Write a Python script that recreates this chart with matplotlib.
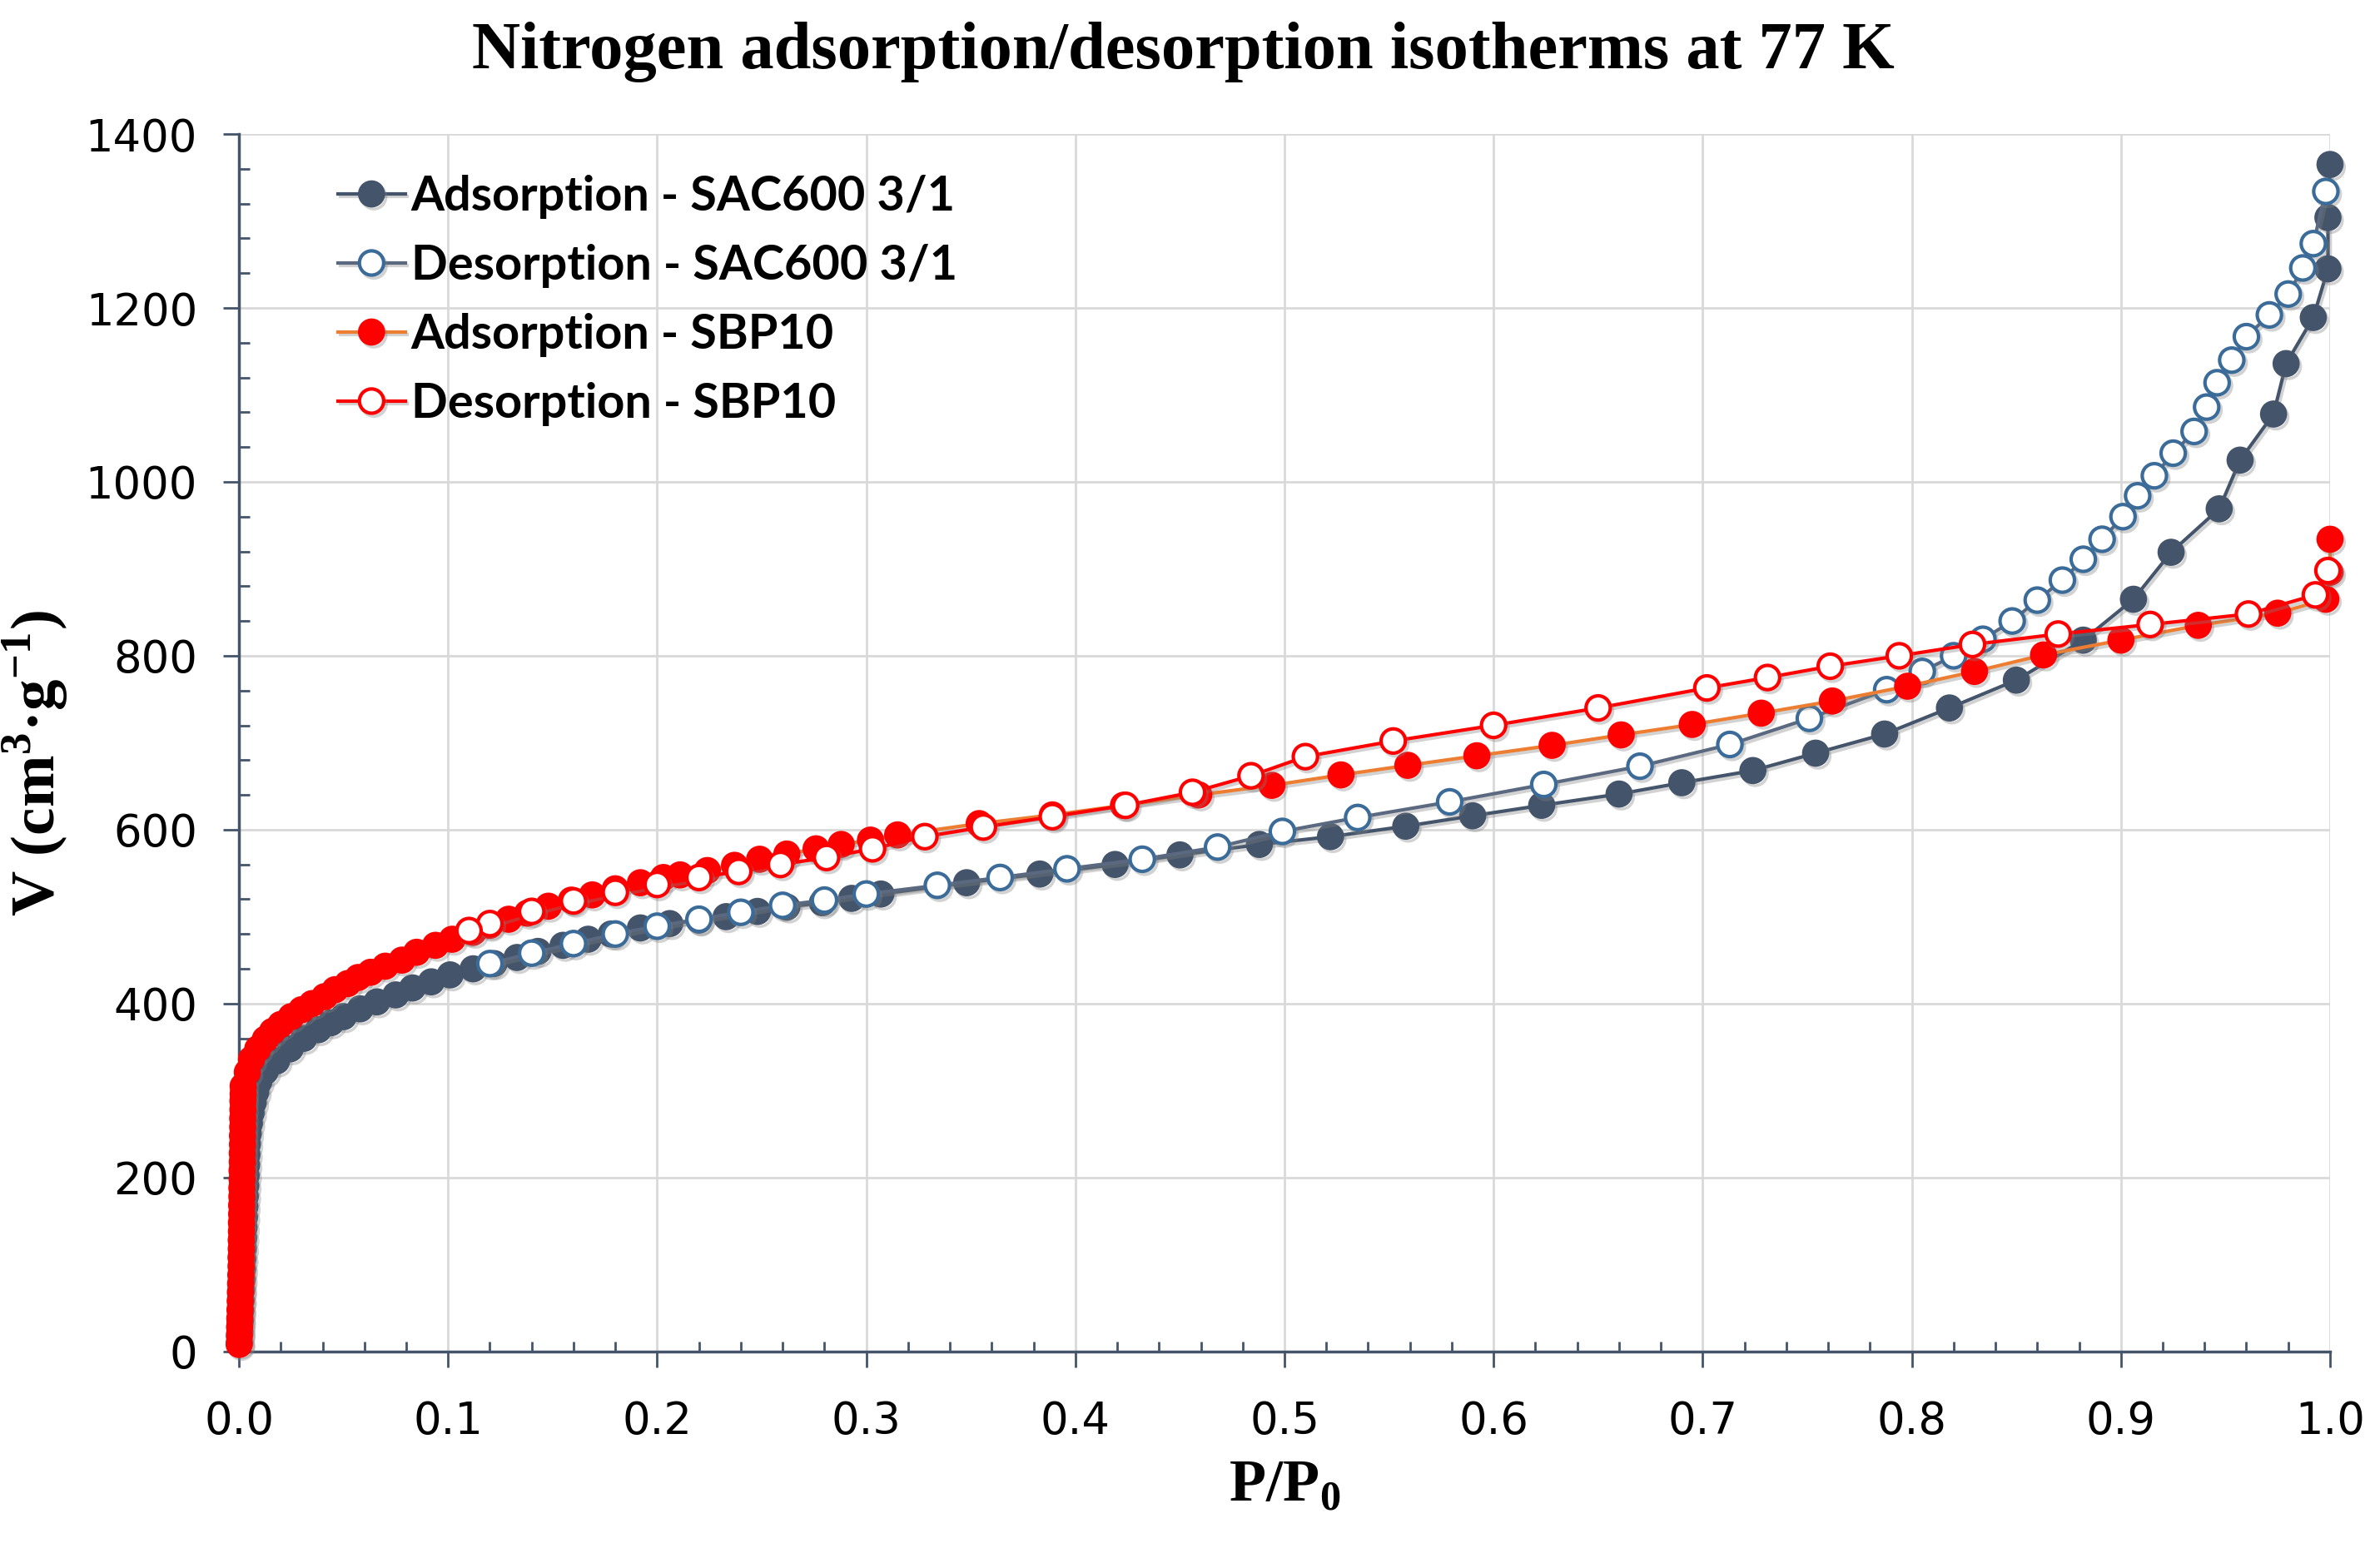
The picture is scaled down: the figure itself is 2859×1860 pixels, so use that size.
# Nitrogen adsorption/desorption isotherms at 77 K
import matplotlib
matplotlib.use("Agg")
from matplotlib import pyplot as plt
from matplotlib import patheffects as pe
from matplotlib.ticker import MultipleLocator, FormatStrFormatter

plt.rcParams['mathtext.fontset'] = 'custom'
plt.rcParams['mathtext.rm'] = 'Liberation Serif:bold'
plt.rcParams['mathtext.bf'] = 'Liberation Serif:bold'

# ---------------- data ----------------
# SAC600 3/1 adsorption
ads_sac_p = [0.0002, 0.0004, 0.0006, 0.0008, 0.0010, 0.0012, 0.0014, 0.0016, 0.0018, 0.0020,
             0.0022, 0.0024, 0.0026, 0.0028, 0.0030, 0.0032, 0.0034, 0.0036, 0.0038, 0.0040,
             0.0044, 0.0050, 0.0058, 0.0068, 0.0080, 0.0095,
             0.0126, 0.018, 0.0245, 0.031, 0.038, 0.044, 0.050, 0.058, 0.066, 0.075,
             0.083, 0.092, 0.101, 0.112, 0.122, 0.133, 0.143, 0.155, 0.167, 0.178,
             0.192, 0.206, 0.220, 0.233, 0.248, 0.262, 0.279, 0.293, 0.307, 0.348,
             0.383, 0.419, 0.450, 0.488, 0.522, 0.558, 0.590, 0.623, 0.660, 0.690,
             0.724, 0.754, 0.787, 0.818, 0.850, 0.882, 0.906, 0.924, 0.947, 0.957,
             0.973, 0.979, 0.992, 0.999, 0.999, 1.000]
ads_sac_v = [10, 22, 34, 46, 58, 70, 82, 94, 106, 118,
             130, 142, 154, 166, 178, 190, 202, 214, 226, 238,
             250, 262, 274, 286, 298, 310,
             322, 334, 348, 360, 370, 378, 385, 394, 402, 410,
             418, 425, 433, 440, 446, 453, 460, 467, 474, 480,
             487, 492, 496, 500, 506, 511, 516, 521, 526, 539,
             549, 560, 571, 583, 592, 604, 616, 628, 641, 654,
             668, 688, 710, 740, 772, 818, 865, 919, 969, 1025,
             1078, 1136, 1189, 1245, 1304, 1365]

# SAC600 3/1 desorption
des_sac_p = [0.998, 0.992, 0.987, 0.980, 0.971, 0.960, 0.953, 0.946, 0.941, 0.935,
             0.925, 0.916, 0.908, 0.901, 0.891, 0.882, 0.872, 0.860, 0.848, 0.834,
             0.820, 0.805, 0.788, 0.751, 0.713, 0.670, 0.624, 0.579, 0.535, 0.499,
             0.468, 0.432, 0.396, 0.364, 0.334, 0.300, 0.280, 0.260, 0.240, 0.220,
             0.200, 0.180, 0.160, 0.140, 0.120]
des_sac_v = [1334, 1274, 1246, 1216, 1192, 1167, 1140, 1114, 1086, 1058,
             1033, 1007, 984, 960, 934, 911, 887, 864, 840, 819,
             800, 782, 761, 728, 698, 673, 652, 632, 614, 598,
             580, 566, 555, 545, 536, 526, 519, 513, 505, 497,
             489, 480, 469, 458, 446]

# SBP10 adsorption
ads_sbp_p = [0.0001, 0.0002, 0.0003, 0.0004, 0.0005, 0.0006, 0.0007, 0.0008, 0.0009, 0.0010,
             0.0010, 0.0011, 0.0011, 0.0012, 0.0012, 0.0013, 0.0013, 0.0014, 0.0014, 0.0015,
             0.0015, 0.0016, 0.0016, 0.0017, 0.0017, 0.0018, 0.0018, 0.0019, 0.0019, 0.0020,
             0.002, 0.004, 0.006, 0.009, 0.0126, 0.016, 0.020, 0.025, 0.030, 0.035,
             0.041, 0.046, 0.052, 0.057, 0.063, 0.070, 0.078, 0.085, 0.094, 0.102,
             0.112, 0.120, 0.129, 0.138, 0.148, 0.159, 0.169, 0.180, 0.192, 0.203,
             0.211, 0.224, 0.237, 0.249, 0.262, 0.276, 0.288, 0.302, 0.315, 0.354,
             0.389, 0.423, 0.459, 0.494, 0.527, 0.559, 0.592, 0.628, 0.661, 0.695,
             0.728, 0.762, 0.798, 0.830, 0.863, 0.900, 0.937, 0.975, 0.998, 1.000,
             1.000]
ads_sbp_v = [8, 18, 28, 38, 48, 58, 68, 78, 88, 98,
             108, 118, 128, 138, 148, 158, 168, 178, 188, 198,
             208, 218, 228, 238, 248, 258, 268, 278, 288, 296,
             305, 321, 336, 348, 359, 368, 376, 385, 393, 400,
             408, 416, 423, 430, 436, 443, 450, 459, 467, 474,
             482, 490, 497, 504, 512, 519, 525, 532, 539, 545,
             548, 553, 559, 566, 572, 578, 583, 588, 594, 607,
             617, 628, 640, 651, 663, 674, 685, 697, 709, 721,
             734, 748, 765, 782, 801, 818, 835, 849, 865, 896,
             934]

# SBP10 desorption
des_sbp_p = [0.999, 0.993, 0.961, 0.914, 0.870, 0.829, 0.794, 0.761, 0.731, 0.702,
             0.650, 0.600, 0.552, 0.510, 0.484, 0.456, 0.424, 0.389, 0.356, 0.328,
             0.303, 0.281, 0.259, 0.239, 0.220, 0.200, 0.180, 0.160, 0.140, 0.120,
             0.110]
des_sbp_v = [898, 870, 848, 836, 825, 813, 800, 788, 775, 763,
             740, 720, 702, 684, 662, 643, 628, 615, 603, 592,
             578, 568, 560, 552, 545, 537, 528, 518, 506, 492,
             484]

labels = ["Adsorption - SAC600 3/1", "Desorption - SAC600 3/1",
          "Adsorption - SBP10", "Desorption - SBP10"]

# ---------------- styling ----------------
axis_col = '#44546A'
sac_col = '#44546A'
sac_open = '#3B6B98'
sac_line2 = '#5A6980'
red = '#FF0000'
orange = '#ED7D31'
ms = 21

# soft drop shadow like the Excel markers
shadow = [pe.SimpleLineShadow(offset=(2, -2.5), shadow_color='#808080', alpha=0.35),
          pe.Normal()]

fig = plt.figure(figsize=(28.59, 18.60), dpi=100)
ax = fig.add_axes([0.1004, 0.127, 0.8786, 0.7864])

ax.plot(ads_sac_p, ads_sac_v, '-o', color=sac_col, lw=3, ms=ms,
        mfc=sac_col, mec=sac_col, mew=2.5, clip_on=False, zorder=3,
        path_effects=shadow, label=labels[0])
ax.plot(des_sac_p, des_sac_v, '-o', color=sac_line2, lw=3, ms=ms,
        mfc='white', mec=sac_open, mew=3, clip_on=False, zorder=4,
        path_effects=shadow, label=labels[1])
ax.plot(ads_sbp_p, ads_sbp_v, '-o', color=orange, lw=3, ms=ms,
        mfc=red, mec=red, mew=2.5, clip_on=False, zorder=5,
        path_effects=shadow, label=labels[2])
ax.plot(des_sbp_p, des_sbp_v, '-o', color=red, lw=3, ms=ms,
        mfc='white', mec=red, mew=3, clip_on=False, zorder=6,
        path_effects=shadow, label=labels[3])

ax.set_xlim(0, 1)
ax.set_ylim(0, 1400)
ax.xaxis.set_major_locator(MultipleLocator(0.1))
ax.xaxis.set_minor_locator(MultipleLocator(0.02))
ax.yaxis.set_major_locator(MultipleLocator(200))
ax.yaxis.set_minor_locator(MultipleLocator(40))
ax.xaxis.set_major_formatter(FormatStrFormatter('%.1f'))

ax.grid(True, which='major', color='#D9D9D9', lw=2)
ax.set_axisbelow(True)
for s in ['top', 'right']:
    ax.spines[s].set_visible(False)
for s in ['left', 'bottom']:
    ax.spines[s].set_color(axis_col)
    ax.spines[s].set_linewidth(2.5)

ax.tick_params(which='major', direction='out', length=14, width=2, color=axis_col,
               labelsize=38)
ax.tick_params(axis='y', which='major', pad=22)
ax.tick_params(axis='x', which='major', pad=28)
ax.tick_params(which='minor', direction='in', length=9, width=2, color=axis_col)

ax.set_xlabel(r'P/P$_{\mathbf{0}}$', fontsize=52, fontfamily='Liberation Serif',
              fontweight='bold', labelpad=14)
ax.set_ylabel(r'V (cm$^{\mathbf{3}}$·g$^{\mathbf{-1}}$)', fontsize=54,
              fontfamily='Liberation Serif', fontweight='bold')
ax.yaxis.set_label_coords(-0.081, 0.483)

fig.text(0.497, 0.956, 'Nitrogen adsorption/desorption isotherms at 77 K',
         ha='center', va='baseline', fontsize=58, fontfamily='Liberation Serif',
         fontweight='bold')

leg = ax.legend(loc='upper left', bbox_to_anchor=(0.142, 0.887),
                bbox_transform=fig.transFigure, frameon=False,
                prop={'family': 'Lato', 'weight': 'bold', 'size': 41.5},
                handlelength=1.4, handletextpad=0.12, labelspacing=0.52,
                borderpad=0, borderaxespad=0)

fig.savefig('out.png', dpi=100)
